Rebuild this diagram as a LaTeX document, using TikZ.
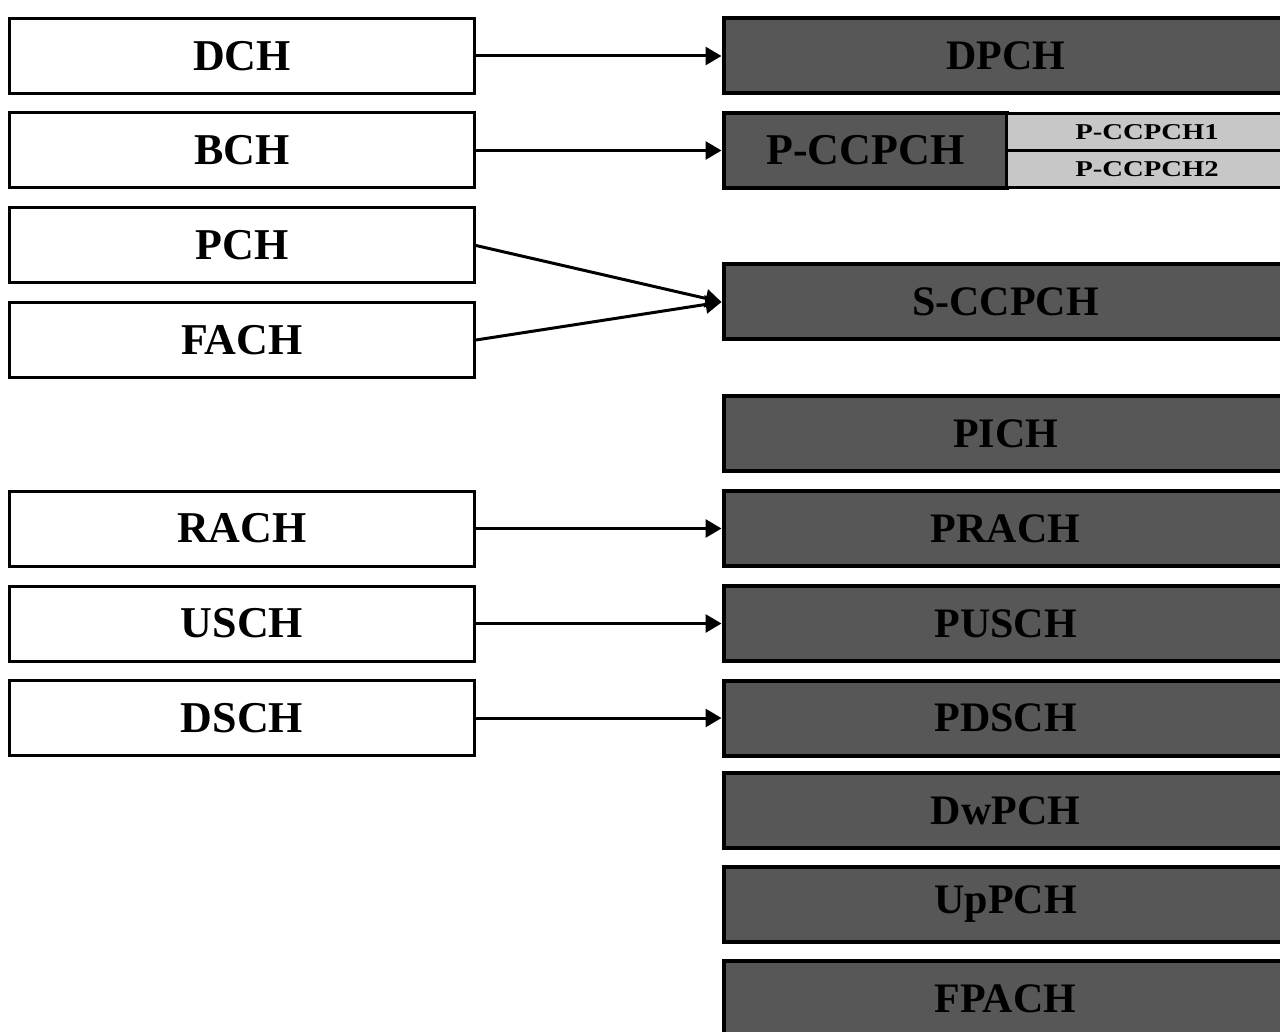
\documentclass[tikz,border=0pt]{standalone}
\usepackage{fontspec}
\usepackage{graphicx}
\setmainfont{Liberation Serif}
\usetikzlibrary{arrows.meta}
\newcommand{\ssh}[1]{\scalebox{1.27}[1]{#1}}
\begin{document}
\begin{tikzpicture}[x=0.5pt,y=-0.5pt,
  tbox/.style={draw=black, line width=1.5pt, fill=white, minimum width=232.5pt, minimum height=37.5pt, inner sep=0pt, font=\fontsize{22}{24}\selectfont\bfseries},
  pbox/.style={draw=black, line width=2pt, fill=black!66, minimum width=282pt, minimum height=37.5pt, inner sep=0pt, anchor=west, font=\fontsize{21}{23}\selectfont\bfseries},
  subbox/.style={draw=black, line width=1.5pt, fill=black!22, minimum width=140.5pt, minimum height=18.5pt, inner sep=0pt, anchor=west, font=\fontsize{11.3}{12}\selectfont\bfseries},
  link/.style={line width=1.5pt, -{Triangle[length=8pt,width=9pt]}}]
\useasboundingbox (0,0) rectangle (1280,1032);
\clip (0,0) rectangle (1280,1032);
\fill[white] (0,0) rectangle (1280,1032);
% left transport channels
\node[tbox] (dch)  at (242,56)    {DCH};
\node[tbox] (bch)  at (242,150.5) {BCH};
\node[tbox] (pch)  at (242,245.5) {PCH};
\node[tbox] (fach) at (242,340)   {FACH};
\node[tbox] (rach) at (242,528.5) {RACH};
\node[tbox] (usch) at (242,623.5) {USCH};
\node[tbox] (dsch) at (242,718)   {DSCH};
% right physical channels
\node[pbox] (dpch)  at (721.5,56)    {DPCH};
\node[pbox, minimum width=141.75pt, font=\fontsize{22}{24}\selectfont\bfseries] (pccpch) at (721.5,150.5) {P-CCPCH};
\node[subbox] (pcc1) at (1005,132)  {\ssh{P-CCPCH1}};
\node[subbox] (pcc2) at (1005,169)  {\ssh{P-CCPCH2}};
\node[pbox] (sccpch) at (721.5,302)  {S-CCPCH};
\node[pbox] (pich)   at (721.5,433.5) {PICH};
\node[pbox] (prach)  at (721.5,528.5) {PRACH};
\node[pbox] (pusch)  at (721.5,623.5) {PUSCH};
\node[pbox] (pdsch)  at (721.5,718)   {PDSCH};
\node[pbox] (dwpch)  at (721.5,810.5) {DwPCH};
\node[pbox] (uppch)  at (721.5,904.5) {UpPCH};
\node[pbox] (fpach)  at (721.5,998.5) {FPACH};
% connectors
\draw[link] (dch.east)  -- (dpch.west);
\draw[link] (bch.east)  -- (pccpch.west);
\draw[link] (pch.east)  -- (sccpch.west);
\draw[link] (fach.east) -- (sccpch.west);
\draw[link] (rach.east) -- (prach.west);
\draw[link] (usch.east) -- (pusch.west);
\draw[link] (dsch.east) -- (pdsch.west);
\end{tikzpicture}
\end{document}
